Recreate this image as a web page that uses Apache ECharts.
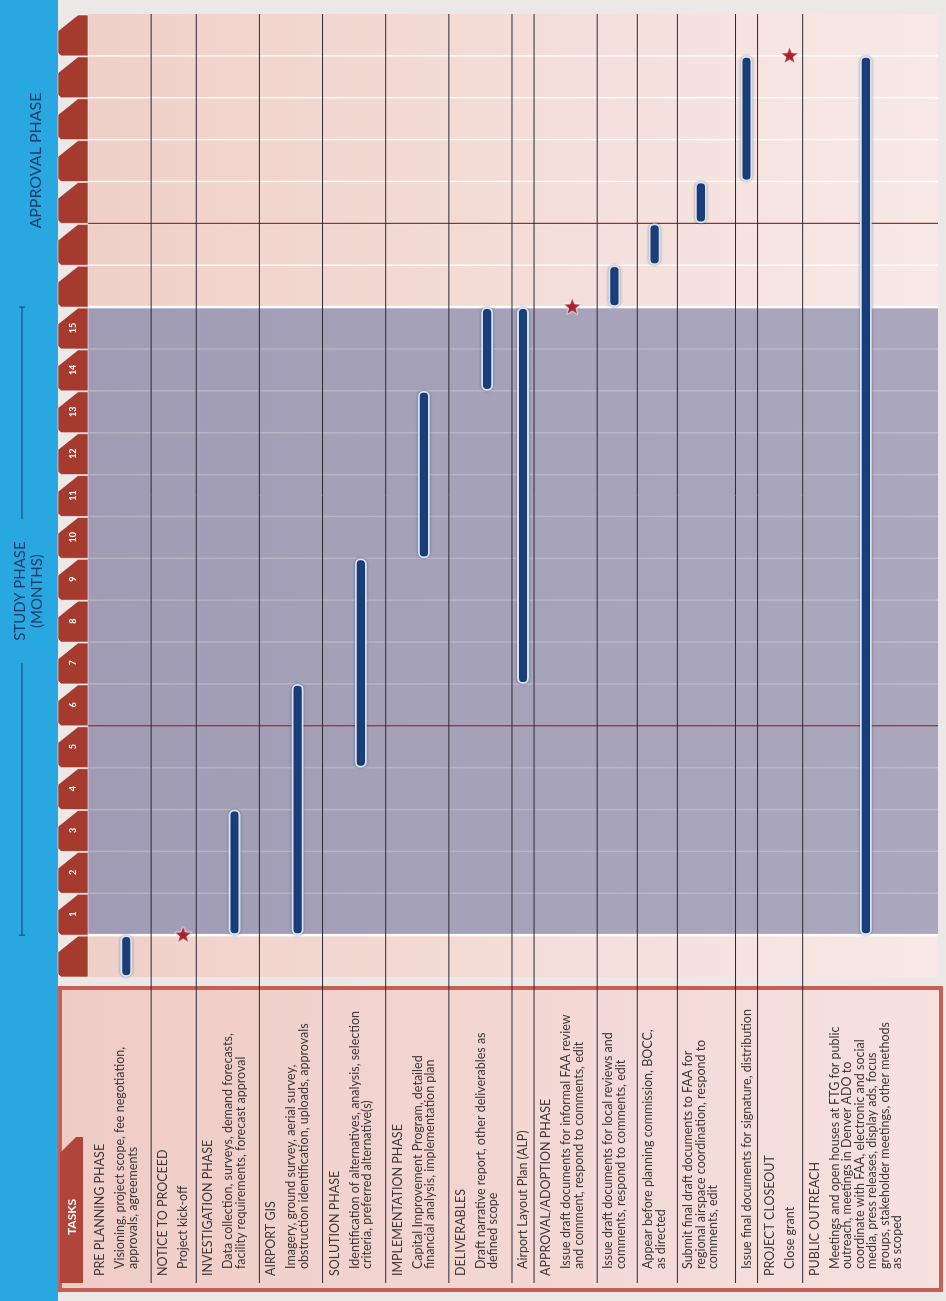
<!DOCTYPE html>
<html>
<head>
<meta charset="utf-8">
<script src="https://cdn.jsdelivr.net/npm/echarts@6/dist/echarts.min.js"></script>
<style>
  html, body { margin: 0; padding: 0; width: 946px; height: 1301px; overflow: hidden; background: #29a7e0; }
  /* the schedule is laid out landscape and turned a quarter turn so time runs upward */
  #chart { position: absolute; left: 0; top: 0; width: 1301px; height: 946px;
           transform-origin: 0 0; transform: translate(0, 1301px) rotate(-90deg); }
</style>
</head>
<body>
<div id="chart"></div>
<script>
// ---- schedule content ----
const taskHeaders = [
  'PRE PLANNING PHASE', 'NOTICE TO PROCEED', 'INVESTIGATION PHASE', 'AIRPORT GIS',
  'SOLUTION PHASE', 'IMPLEMENTATION PHASE', 'DELIVERABLES', '',
  'APPROVAL/ADOPTION PHASE', '', '', '', '', 'PROJECT CLOSEOUT', 'PUBLIC OUTREACH'
];
const taskDetails = [
  ['Visioning, project scope, fee negotiation,', 'approvals, agreements'],
  ['Project kick-off'],
  ['Data collection, surveys, demand forecasts,', 'facility requirements, forecast approval'],
  ['Imagery, ground survey, aerial survey,', 'obstruction identification, uploads, approvals'],
  ['Identification of alternatives, analysis, selection', 'criteria, preferred alternative(s)'],
  ['Capital Improvement Program, detailed', 'financial analysis, implementation plan'],
  ['Draft narrative report, other deliverables as', 'defined scope'],
  ['Airport Layout Plan (ALP)'],
  ['Issue draft documents for informal FAA review', 'and comment, respond to comments, edit'],
  ['Issue draft documents for local reviews and', 'comments, respond to comments, edit'],
  ['Appear before planning commission, BOCC,', 'as directed'],
  ['Submit final draft documents to FAA for', 'regional airspace coordination, respond to', 'comments, edit'],
  ['Issue final documents for signature, distribution'],
  ['Close grant'],
  ['Meetings and open houses at FTG for public', 'outreach, meetings in Denver ADO to',
   'coordinate with FAA, electronic and social', 'media, press releases, display ads, focus',
   'groups, stakeholder meetings, other methods', 'as scoped']
];

// month slots along the time axis (slot 0 = pre planning month)
const monthLabels = ['', '1', '2', '3', '4', '5', '6', '7', '8', '9', '10', '11', '12', '13', '14', '15',
                     '', '', '', '', '', '', ''];
const studyPhase = [1, 16];
const approvalPhase = [16, 23];
const reviewLines = [6, 18];

// activity bars: task row, start month, end month
const barTask  = [0, 2, 3, 4, 5, 6, 7, 9, 10, 11, 12, 14];
const barStart = [0, 1, 1, 5, 10, 14, 7, 16, 17, 18, 19, 1];
const barEnd   = [1, 4, 7, 10, 14, 16, 16, 17, 18, 19, 22, 22];

// milestones: task row and month
const milestoneTask  = [1, 8, 13];
const milestoneMonth = [1, 16, 22];

const studyTitle = ['STUDY PHASE', '(MONTHS)'];
const approvalTitle = 'APPROVAL PHASE';

// ---- row sizing from the amount of text in each row ----
const LINE = 18, HEAD = 23, PAD = 4;
const rowTop = [];
let rowTotal = 0;
taskDetails.forEach((d, i) => {
  rowTop.push(rowTotal);
  rowTotal += PAD + LINE * d.length + (taskHeaders[i] ? HEAD : 0);
});

const FONT = 'Lato, "Open Sans", sans-serif';
const TEXT = '#3f3737';
const LIST_FONT = '12.5px ' + FONT;
const LEADING = 12.5;

function rowPx(api, r) { return api.coord([0, rowTop[r]])[1]; }
function firstDetailPx(api, r) { return rowPx(api, r) + (taskHeaders[r] ? 32 : 11); }
function markPx(api, r) { return firstDetailPx(api, r) + (taskDetails[r].length - 1) * LEADING / 2; }

const chart = echarts.init(document.getElementById('chart'), null, { renderer: 'canvas' });

const monthCount = monthLabels.length;
const series = [];

// timeline background bands
series.push({
  type: 'custom', xAxisIndex: 0, yAxisIndex: 0, silent: true, z: 1,
  data: [[0, monthCount, 0], [studyPhase[0], studyPhase[1], 1]],
  renderItem(params, api) {
    const a = api.coord([api.value(0), 0]);
    const b = api.coord([api.value(1), rowTotal]);
    const study = api.value(2) === 1;
    return {
      type: 'rect',
      shape: { x: a[0], y: a[1], width: b[0] - a[0], height: b[1] - a[1] },
      style: {
        fill: new echarts.graphic.LinearGradient(0, 0, 0, 1, study
          ? [{ offset: 0, color: '#a09cb5' }, { offset: 1, color: '#aba8be' }]
          : [{ offset: 0, color: '#efd0c8' }, { offset: 1, color: '#f8e9e6' }])
      }
    };
  }
});

// month boundaries
series.push({
  type: 'custom', xAxisIndex: 0, yAxisIndex: 0, silent: true, z: 2,
  data: monthLabels.map((l, i) => [i]).slice(1),
  renderItem(params, api) {
    const t = api.value(0);
    const a = api.coord([t, 0]);
    const b = api.coord([t, rowTotal]);
    const edge = t === studyPhase[0] || t === studyPhase[1];
    const inside = t > studyPhase[0] && t < studyPhase[1];
    return {
      type: 'line',
      shape: { x1: a[0], y1: a[1], x2: b[0], y2: b[1] },
      style: {
        stroke: edge ? 'rgba(255,255,255,0.95)' : (inside ? 'rgba(255,255,255,0.22)' : 'rgba(255,255,255,0.85)'),
        lineWidth: edge ? 2.5 : 1.5
      }
    };
  }
});

// review lines
series.push({
  type: 'custom', xAxisIndex: 0, yAxisIndex: 0, silent: true, z: 3,
  data: reviewLines.map(t => [t]),
  renderItem(params, api) {
    const a = api.coord([api.value(0), 0]);
    const b = api.coord([api.value(0), rowTotal]);
    return {
      type: 'line',
      shape: { x1: a[0], y1: a[1], x2: b[0], y2: b[1] },
      style: { stroke: '#8d2626', lineWidth: 1.2 }
    };
  }
});

// row separators across schedule and task list
[0, 1].forEach(g => {
  series.push({
    type: 'custom', xAxisIndex: g, yAxisIndex: g, silent: true, z: 4, clip: false,
    data: rowTop.slice(1).map(v => [v]),
    renderItem(params, api) {
      const cs = params.coordSys;
      const y = api.coord([0, api.value(0)])[1];
      return {
        type: 'line',
        shape: { x1: cs.x, y1: y, x2: cs.x + cs.width, y2: y },
        style: { stroke: '#2f2935', lineWidth: 1 }
      };
    }
  });
});

// activity bars
series.push({
  type: 'custom', xAxisIndex: 0, yAxisIndex: 0, silent: true, z: 6,
  data: barTask.map((r, k) => [barStart[k], barEnd[k], r]),
  renderItem(params, api) {
    const r = api.value(2);
    const x0 = api.coord([api.value(0), 0])[0];
    const x1 = api.coord([api.value(1), 0])[0];
    const cy = markPx(api, r);
    return {
      type: 'rect',
      shape: { x: x0 + 1, y: cy - 5, width: x1 - x0 - 2, height: 10, r: 4.5 },
      style: {
        fill: '#1b3f7b', stroke: '#d5e6f2', lineWidth: 1.8,
        shadowBlur: 3, shadowColor: 'rgba(20,30,70,0.35)'
      }
    };
  }
});

// milestones
series.push({
  type: 'custom', xAxisIndex: 0, yAxisIndex: 0, silent: true, z: 7, clip: false,
  data: milestoneTask.map((r, k) => [milestoneMonth[k], r]),
  renderItem(params, api) {
    const r = api.value(1);
    const cx = api.coord([api.value(0), 0])[0];
    const cy = markPx(api, r);
    const pts = [];
    for (let k = 0; k < 10; k++) {
      const ang = k * Math.PI / 5;
      const rad = k % 2 === 0 ? 9 : 3.8;
      pts.push([cx + rad * Math.cos(ang), cy + rad * Math.sin(ang)]);
    }
    return {
      type: 'polygon', shape: { points: pts },
      style: { fill: '#a6222f', stroke: 'rgba(255,235,235,0.6)', lineWidth: 0.8,
               shadowBlur: 2, shadowColor: 'rgba(255,255,255,0.6)' }
    };
  }
});

// month tabs
series.push({
  type: 'custom', xAxisIndex: 0, yAxisIndex: 0, silent: true, z: 5, clip: false,
  data: monthLabels.map((l, i) => [i, i + 1]),
  renderItem(params, api) {
    const i = api.value(0);
    const a = api.coord([api.value(0), 0])[0];
    const b = api.coord([api.value(1), 0])[0];
    const top = params.coordSys.y;
    const v0 = top - 30;
    const pts = [[b - 1, top], [b - 1, top - 10], [b - 17, v0], [a + 3, v0], [a, v0 + 3], [a, top]];
    return {
      type: 'group',
      children: [
        { type: 'polygon', shape: { points: pts },
          style: { fill: '#a53a2e', stroke: 'rgba(255,255,255,0.55)', lineWidth: 1 } },
        { type: 'text',
          style: { text: monthLabels[i], x: (a + b) / 2, y: top - 15, align: 'center', verticalAlign: 'middle',
                   fill: '#ffffff', font: 'bold 9px ' + FONT } }
      ]
    };
  }
});

// phase titles over the month tabs
series.push({
  type: 'custom', xAxisIndex: 0, yAxisIndex: 0, silent: true, z: 5, clip: false,
  data: [[studyPhase[0], studyPhase[1], 0], [approvalPhase[0], approvalPhase[1], 1]],
  renderItem(params, api) {
    const a = api.coord([api.value(0), 0])[0];
    const b = api.coord([api.value(1), 0])[0];
    const top = params.coordSys.y;
    if (api.value(2) === 1) {
      return { type: 'text',
        style: { text: approvalTitle, x: (a + b) / 2, y: top - 52, align: 'center', verticalAlign: 'middle',
                 fill: '#1d3c6d', font: '16px ' + FONT } };
    }
    const c = (a + b) / 2 + 30;
    const lv = top - 66;
    return {
      type: 'group',
      children: [
        { type: 'line', shape: { x1: a, y1: lv, x2: c - 72, y2: lv }, style: { stroke: '#1d3c6d', lineWidth: 1 } },
        { type: 'line', shape: { x1: c + 72, y1: lv, x2: b, y2: lv }, style: { stroke: '#1d3c6d', lineWidth: 1 } },
        { type: 'line', shape: { x1: a, y1: lv - 3, x2: a, y2: lv + 3 }, style: { stroke: '#1d3c6d', lineWidth: 1 } },
        { type: 'line', shape: { x1: b, y1: lv - 3, x2: b, y2: lv + 3 }, style: { stroke: '#1d3c6d', lineWidth: 1 } },
        { type: 'text', style: { text: studyTitle[0], x: c, y: top - 68, align: 'center', verticalAlign: 'middle',
                                 fill: '#1d3c6d', font: '15px ' + FONT } },
        { type: 'text', style: { text: studyTitle[1], x: c, y: top - 51, align: 'center', verticalAlign: 'middle',
                                 fill: '#1d3c6d', font: '15px ' + FONT } }
      ]
    };
  }
});

// task list text
series.push({
  type: 'custom', xAxisIndex: 1, yAxisIndex: 1, silent: true, z: 6, clip: false,
  data: taskDetails.map((d, i) => [0, i]),
  renderItem(params, api) {
    const r = api.value(1);
    const x0 = params.coordSys.x;
    const children = [];
    const top = rowPx(api, r);
    if (taskHeaders[r]) {
      children.push({ type: 'text', style: { text: taskHeaders[r], x: x0 + 7, y: top + 12,
        verticalAlign: 'middle', fill: TEXT, font: LIST_FONT } });
    }
    const first = firstDetailPx(api, r);
    taskDetails[r].forEach((t, k) => {
      children.push({ type: 'text', style: { text: t, x: x0 + 14, y: first + k * LEADING,
        verticalAlign: 'middle', fill: TEXT, font: LIST_FONT } });
    });
    return { type: 'group', children };
  }
});

const option = {
  animation: false,
  grid: [
    { left: 324, right: 14, top: 88, bottom: 8 },
    { left: 18, width: 306, top: 88, bottom: 8 }
  ],
  xAxis: [
    { gridIndex: 0, type: 'value', min: 0, max: monthCount, show: false },
    { gridIndex: 1, type: 'value', min: 0, max: 1, show: false }
  ],
  yAxis: [
    { gridIndex: 0, type: 'value', min: 0, max: rowTotal, inverse: true, show: false },
    { gridIndex: 1, type: 'value', min: 0, max: rowTotal, inverse: true, show: false }
  ],
  graphic: [
    { type: 'rect', z: 0, shape: { x: 0, y: 58, width: 1301, height: 888 }, style: { fill: '#ece8e8' } },
    { type: 'rect', z: 0, shape: { x: 11, y: 60, width: 302, height: 881 },
      style: { fill: new echarts.graphic.LinearGradient(0, 0, 0, 1,
                 [{ offset: 0, color: '#efcbc6' }, { offset: 1, color: '#f6e2df' }]),
               stroke: '#c65f56', lineWidth: 4 } },
    { type: 'polygon', z: 1, shape: { points: [[18, 60], [148, 60], [164, 76], [164, 83], [18, 83]] },
      style: { fill: '#b2453b' } },
    { type: 'text', z: 1, style: { text: 'TASKS', x: 84, y: 72, align: 'center', verticalAlign: 'middle',
      fill: '#ffffff', font: 'bold 12px ' + FONT } }
  ],
  series
};
chart.setOption(option);
</script>
</body>
</html>
